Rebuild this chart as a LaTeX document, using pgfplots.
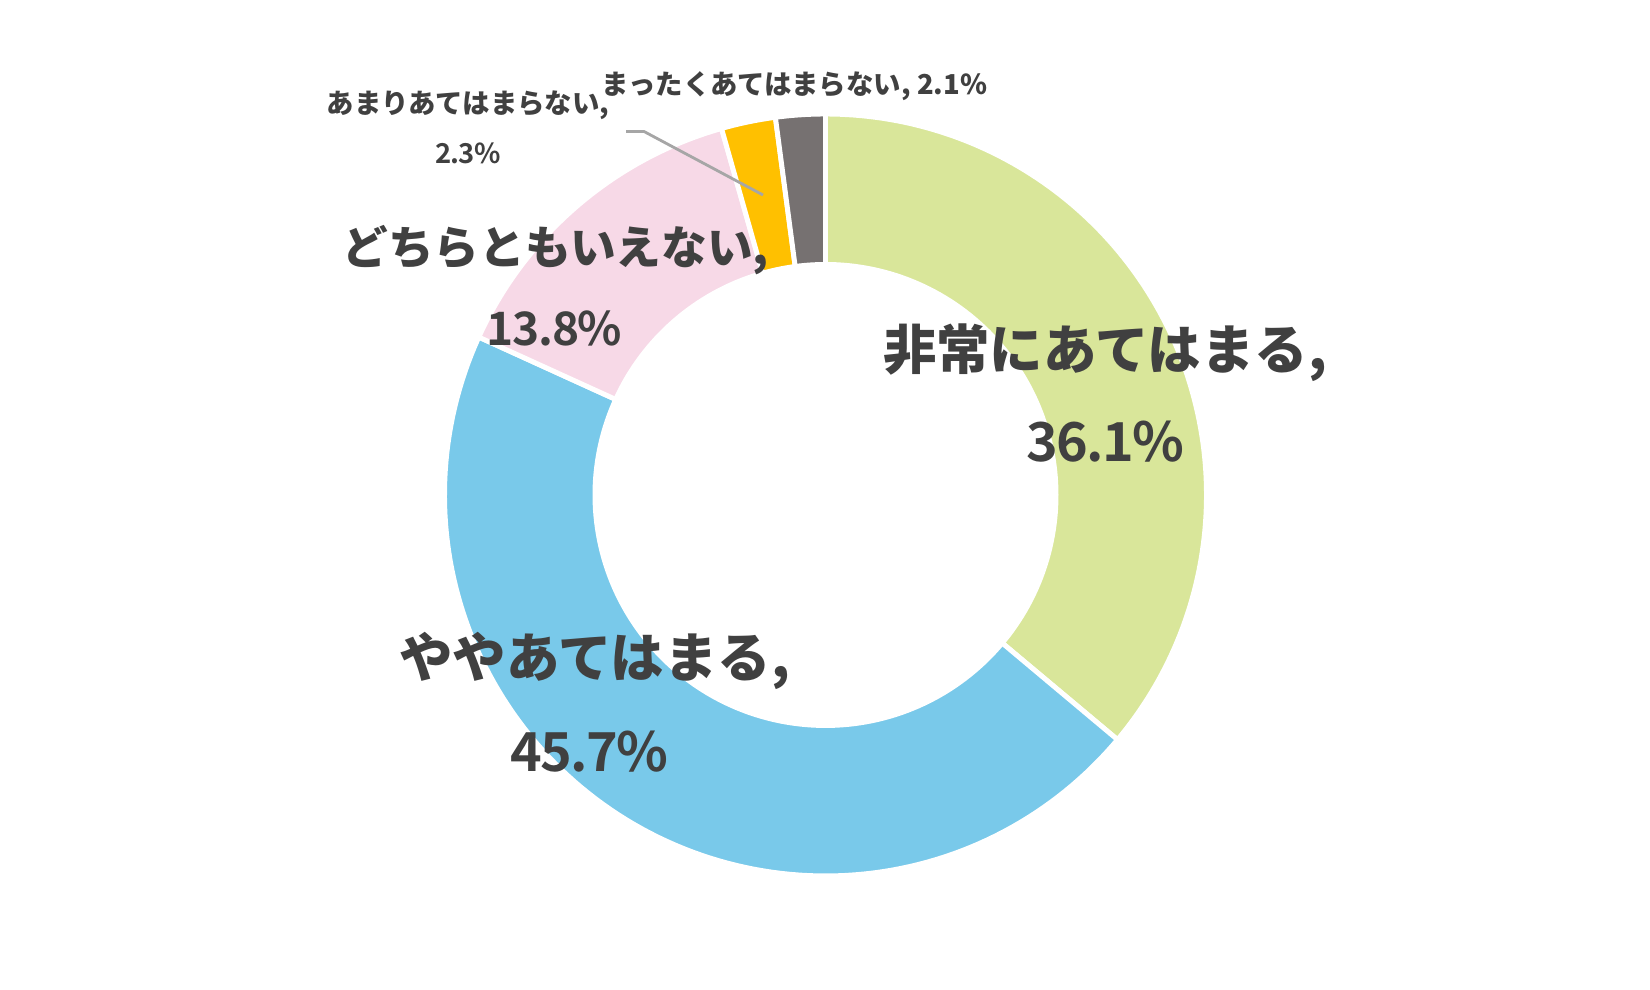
\documentclass[border=0pt]{standalone}
\usepackage{pgfplots}
\usepackage{pgfplotstable}
\pgfplotsset{compat=1.18}
\usepackage{fontspec}
\setmainfont{Noto Sans CJK JP}
\newfontfamily\numfont{Noto Sans CJK JP Bold}[LetterSpace=-3]
\definecolor{cA}{HTML}{D9E69A}
\definecolor{cB}{HTML}{79C9EA}
\definecolor{cC}{HTML}{F7D9E7}
\definecolor{cD}{HTML}{FFC000}
\definecolor{cE}{HTML}{767171}
\definecolor{txt}{HTML}{404040}
\definecolor{lead}{HTML}{A6A6A6}
\pgfplotstableread{
value color
36.1 cA
45.7 cB
13.8 cC
2.3 cD
2.1 cE
}\piedata
\begin{document}
\begin{tikzpicture}
\begin{axis}[scale only axis, width=16.5cm, height=9.9cm,
  xmin=0, xmax=1650, ymin=0, ymax=990, clip=false,
  axis line style={draw=none}, xtick=\empty, ytick=\empty]
\pgfplotstablegetrowsof{\piedata}
\pgfmathtruncatemacro\N{\pgfplotsretval-1}
\def\cum{0}
\pgfplotsforeachungrouped \i in {0,...,\N}{%
  \pgfplotstablegetelem{\i}{value}\of\piedata \let\v\pgfplotsretval
  \pgfplotstablegetelem{\i}{color}\of\piedata \let\c\pgfplotsretval
  \pgfmathsetmacro\aS{90-3.6*\cum}%
  \pgfmathsetmacro\aE{90-3.6*(\cum+\v)}%
  \pgfmathsetmacro\cum{\cum+\v}%
  \edef\temp{\noexpand\addplot[fill=\c, draw=white, line width=1.4pt, domain=\aE:\aS, samples=120, variable=\noexpand\t]
    ({825.5+381*cos(\noexpand\t)},{495+381*sin(\noexpand\t)}) -- (axis cs:825.5,495) -- cycle;}%
  \temp
}
\addplot[fill=white, draw=none, domain=0:360, samples=240] ({825.5+233*cos(x)},{495+233*sin(x)}) -- cycle;
\addplot[draw=lead, line width=0.8pt] coordinates {(626,858.5) (644,858.5) (763,795)};
\begin{scope}[every node/.style={text=txt, font=\bfseries}]
\node[font=\fontsize{15.2pt}{18pt}\selectfont\bfseries] at (axis cs:1105,637.5) {非常にあてはまる,};
\node[font=\fontsize{15.3pt}{18pt}\selectfont\numfont] at (axis cs:1105,548) {36.1\%};
\node[font=\fontsize{15.2pt}{18pt}\selectfont\bfseries] at (axis cs:594.5,329) {ややあてはまる,};
\node[font=\fontsize{15.3pt}{18pt}\selectfont\numfont] at (axis cs:589,238) {45.7\%};
\node[font=\fontsize{13pt}{16pt}\selectfont\bfseries] at (axis cs:555.6,739.5) {どちらともいえない,};
\node[font=\fontsize{13.1pt}{16pt}\selectfont\numfont] at (axis cs:554.5,662) {13.8\%};
\node[font=\fontsize{7.8pt}{10pt}\selectfont\bfseries] at (axis cs:468,885) {あまりあてはまらない,};
\node[font=\fontsize{7.8pt}{10pt}\selectfont\numfont] at (axis cs:468,837) {2.3\%};
\node[font=\fontsize{7.8pt}{10pt}\selectfont\bfseries] at (axis cs:794.5,904) {まったくあてはまらない, 2.1\%};
\end{scope}
\end{axis}
\end{tikzpicture}
\end{document}
